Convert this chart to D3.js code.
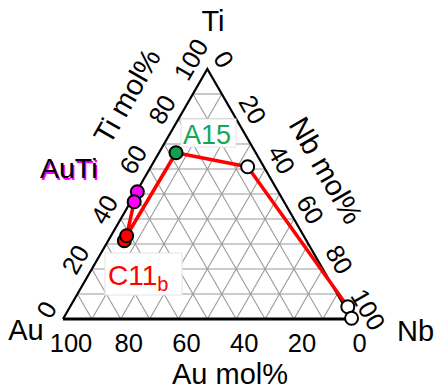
<!DOCTYPE html>
<html lang="en">
<head>
  <meta charset="utf-8">
  <title>Au-Ti-Nb ternary</title>
  <script src="https://cdn.jsdelivr.net/npm/d3@7/dist/d3.min.js"></script>
  <style>
    body { margin: 0; background: #fff; }
    svg { display: block; font-family: "Liberation Sans", Arial, sans-serif; }
  </style>
</head>
<body>
  <svg id="chart" width="434" height="392"></svg>
  <script>
  // tick values (mol%)
  const ticks = [0, 20, 40, 60, 80, 100];
  const gridSteps = d3.range(10, 100, 10);

  // compositions in mol% (Ti, Nb); Au is the rest
  const auTiTi = [50.9, 46.9];
  const auTiNb = [0.3, 1.2];
  const c11Ti = [31.3, 33.3];
  const c11Nb = [5.6, 5.4];
  const a15Ti = [66.5];
  const a15Nb = [5.9];
  const openTi = [60.9, 4.9, 0.3];
  const openNb = [33.5, 96.2, 99.8];
  // red boundary through the phases
  const lineTi = [46.9, 33.3, 66.5, 60.9, 4.9];
  const lineNb = [1.2, 5.4, 5.9, 33.5, 96.2];

  const svg = d3.select("#chart");

  // x scale: Nb + Ti/2 along the base, y scale: Ti height
  const xS = d3.scaleLinear().domain([0, 100]).range([63, 351.7]);
  const yS = d3.scaleLinear().domain([0, 100]).range([319, 69]);
  const px = (ti, nb) => [xS(nb + ti / 2), yS(ti)];

  // grid
  const grid = svg.append("g").attr("stroke", "#9a9a9a").attr("stroke-width", 1.1).attr("fill", "none");
  gridSteps.forEach(v => {
    // constant Ti
    grid.append("line").attr("x1", px(v, 0)[0]).attr("y1", px(v, 0)[1])
      .attr("x2", px(v, 100 - v)[0]).attr("y2", px(v, 100 - v)[1]);
    // constant Nb
    grid.append("line").attr("x1", px(0, v)[0]).attr("y1", px(0, v)[1])
      .attr("x2", px(100 - v, v)[0]).attr("y2", px(100 - v, v)[1]);
    // constant Au
    grid.append("line").attr("x1", px(0, 100 - v)[0]).attr("y1", px(0, 100 - v)[1])
      .attr("x2", px(100 - v, 0)[0]).attr("y2", px(100 - v, 0)[1]);
  });

  // triangle edges
  const A = px(0, 0), B = px(0, 100), C = px(100, 0);
  svg.append("line").attr("x1", A[0]).attr("y1", A[1]).attr("x2", B[0]).attr("y2", B[1])
    .attr("stroke", "#000").attr("stroke-width", 3);
  svg.append("path").attr("d", d3.line()([A, C, B])).attr("fill", "none")
    .attr("stroke", "#000").attr("stroke-width", 2.2).attr("stroke-linejoin", "miter");

  // tick labels
  const tk = svg.append("g").attr("font-size", 25.5).attr("fill", "#000");
  ticks.forEach(v => {
    // Ti, left edge
    let p = px(v, 0);
    tk.append("text").attr("text-anchor", "middle").attr("dominant-baseline", "central")
      .attr("transform", `translate(${p[0] - 19 * 0.866},${p[1] - 19 * 0.5}) rotate(-60)`)
      .text(v);
    // Nb, right edge
    p = px(100 - v, v);
    tk.append("text").attr("text-anchor", "middle").attr("dominant-baseline", "central")
      .attr("transform", `translate(${p[0] + 19 * 0.866},${p[1] - 19 * 0.5}) rotate(60)`)
      .text(v);
    // Au, bottom
    p = px(0, 100 - v);
    tk.append("text").attr("text-anchor", "middle")
      .attr("x", p[0] + 8).attr("y", p[1] + 33).text(v);
  });

  // axis titles and corner labels
  const t = svg.append("g").attr("font-size", 29).attr("fill", "#000");
  let q = px(78, 0);
  t.append("text").attr("text-anchor", "middle").attr("dominant-baseline", "central")
    .attr("transform", `translate(${q[0] - 56 * 0.866},${q[1] - 56 * 0.5}) rotate(-60)`)
    .text("Ti mol%");
  q = px(49, 51);
  t.append("text").attr("text-anchor", "middle").attr("dominant-baseline", "central")
    .attr("transform", `translate(${q[0] + 52 * 0.866},${q[1] - 52 * 0.5}) rotate(60)`)
    .text("Nb mol%");
  t.append("text").attr("text-anchor", "middle").attr("x", 230).attr("y", 384).text("Au mol%");
  t.append("text").attr("text-anchor", "middle").attr("x", 213).attr("y", 31).text("Ti");
  t.append("text").attr("text-anchor", "middle").attr("x", 26).attr("y", 340).text("Au");
  t.append("text").attr("text-anchor", "start").attr("x", 397).attr("y", 341).text("Nb");

  // phase label boxes
  svg.append("rect").attr("x", 181).attr("y", 119).attr("width", 55).attr("height", 28)
    .attr("fill", "#fff").attr("stroke", "#e4e4e4");
  svg.append("text").attr("x", 183).attr("y", 144).attr("font-size", 27).attr("fill", "#12a85a").text("A15");

  svg.append("rect").attr("x", 105).attr("y", 253).attr("width", 77).attr("height", 42)
    .attr("fill", "#fff").attr("stroke", "#e4e4e4");
  const c11 = svg.append("text").attr("x", 108).attr("y", 285).attr("font-size", 28).attr("fill", "#ff0000");
  c11.append("tspan").text("C11");
  c11.append("tspan").attr("font-size", 20).attr("dy", 6).text("b");

  // AuTi label: black with magenta shadow
  svg.append("text").attr("x", 41.5).attr("y", 179.5).attr("font-size", 28.5).attr("fill", "#ff00ff").text("AuTi");
  svg.append("text").attr("x", 40).attr("y", 178).attr("font-size", 28.5).attr("fill", "#000").text("AuTi");

  // red boundary
  svg.append("path")
    .attr("d", d3.line()(lineTi.map((v, i) => px(v, lineNb[i]))))
    .attr("fill", "none").attr("stroke", "#ff0000").attr("stroke-width", 3.5)
    .attr("stroke-linejoin", "round");

  // markers
  function dots(tis, nbs, fill) {
    svg.append("g").selectAll("circle").data(tis).join("circle")
      .attr("cx", (d, i) => px(d, nbs[i])[0])
      .attr("cy", (d, i) => px(d, nbs[i])[1])
      .attr("r", 6.5)
      .attr("fill", fill).attr("stroke", "#000").attr("stroke-width", 2);
  }
  dots(auTiTi, auTiNb, "#ff00ff");
  dots(c11Ti, c11Nb, "#ff0000");
  dots(a15Ti, a15Nb, "#14a050");
  dots(openTi, openNb, "#fff");
  </script>
</body>
</html>
